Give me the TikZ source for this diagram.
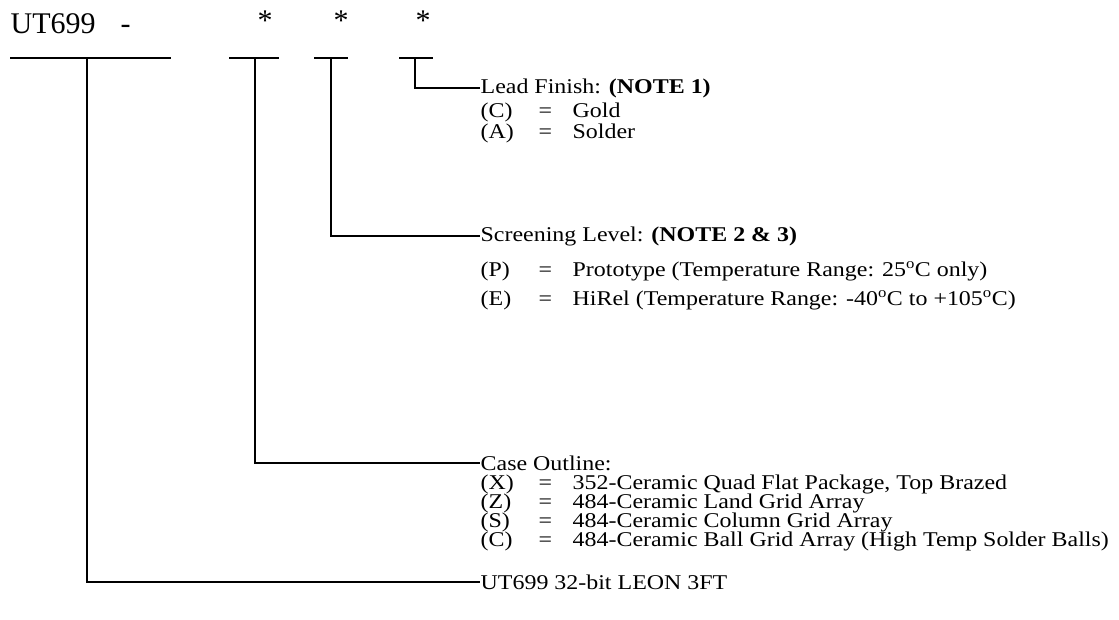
\documentclass[tikz,border=0pt]{standalone}
\usepackage{fontspec}
\setmainfont{Liberation Serif}
\newfontfamily\widefont{Liberation Serif}[FakeStretch=1.14]
\begin{document}
\begin{tikzpicture}[x=1pt,y=-1pt, line width=1.3pt]
\tikzset{
  txt/.style={anchor=base west, inner sep=0pt, font=\widefont\fontsize{21}{21}\selectfont},
  hdr/.style={anchor=west, inner sep=0pt, font=\widefont\fontsize{21}{21}\selectfont},
  big/.style={anchor=base west, inner sep=0pt, font=\fontsize{30}{30}\selectfont},
  conn/.style={draw=black, line width=1.3pt}
}
\useasboundingbox (0,0) rectangle (1119,619);
% top part number
\node[big] (pn) at (10,33) {UT699};
\node[big] (dash) at (120,33) {-};
\node[big, anchor=base] (s1) at (265,30) {*};
\node[big, anchor=base] (s2) at (341,30) {*};
\node[big, anchor=base] (s3) at (423,30) {*};
% bars
\coordinate (b1l) at (10,58); \coordinate (b1r) at (171,58); \coordinate (b1m) at (87,58);
\coordinate (b2l) at (229,58); \coordinate (b2r) at (279,58); \coordinate (b2m) at (255,58);
\coordinate (b3l) at (314,58); \coordinate (b3r) at (348,58); \coordinate (b3m) at (331,58);
\coordinate (b4l) at (399,58); \coordinate (b4r) at (433,58); \coordinate (b4m) at (415,58);
\draw[conn] (b1l) -- (b1r);
\draw[conn] (b2l) -- (b2r);
\draw[conn] (b3l) -- (b3r);
\draw[conn] (b4l) -- (b4r);
% Lead finish
\node[hdr] (lead) at (480,88) {Lead Finish: \textbf{(NOTE 1)}};
\draw[conn] (b4m) |- (lead.west);
\node[txt] (lc1) at (480,117) {(C)}; \node[txt] (le1) at (538,117) {=}; \node[txt] (ld1) at (572,117) {Gold};
\node[txt] (lc2) at (480,138) {(A)}; \node[txt] (le2) at (538,138) {=}; \node[txt] (ld2) at (572,138) {Solder};
% Screening
\node[hdr] (scr) at (480,236) {Screening Level: \textbf{(NOTE 2 \& 3)}};
\draw[conn] (b3m) |- (scr.west);
\node[txt] (sc1) at (480,276) {(P)}; \node[txt] (se1) at (538,276) {=}; \node[txt] (sd1) at (572,276) {Prototype (Temperature Range: 25\textsuperscript{o}C only)};
\node[txt] (sc2) at (480,305) {(E)}; \node[txt] (se2) at (538,305) {=}; \node[txt] (sd2) at (572,305) {HiRel (Temperature Range: -40\textsuperscript{o}C to +105\textsuperscript{o}C)};
% Case outline
\node[hdr] (case) at (480,463) {Case Outline:};
\draw[conn] (b2m) |- (case.west);
\node[txt] (cc1) at (480,489) {(X)}; \node[txt] (ce1) at (538,489) {=}; \node[txt] (cd1) at (572,489) {352-Ceramic Quad Flat Package, Top Brazed};
\node[txt] (cc2) at (480,508) {(Z)}; \node[txt] (ce2) at (538,508) {=}; \node[txt] (cd2) at (572,508) {484-Ceramic Land Grid Array};
\node[txt] (cc3) at (480,527) {(S)}; \node[txt] (ce3) at (538,527) {=}; \node[txt] (cd3) at (572,527) {484-Ceramic Column Grid Array};
\node[txt] (cc4) at (480,546) {(C)}; \node[txt] (ce4) at (538,546) {=}; \node[txt] (cd4) at (572,546) {484-Ceramic Ball Grid Array (High Temp Solder Balls)};
% Device
\node[hdr] (dev) at (480,582) {UT699 32-bit LEON 3FT};
\draw[conn] (b1m) |- (dev.west);
\end{tikzpicture}
\end{document}
